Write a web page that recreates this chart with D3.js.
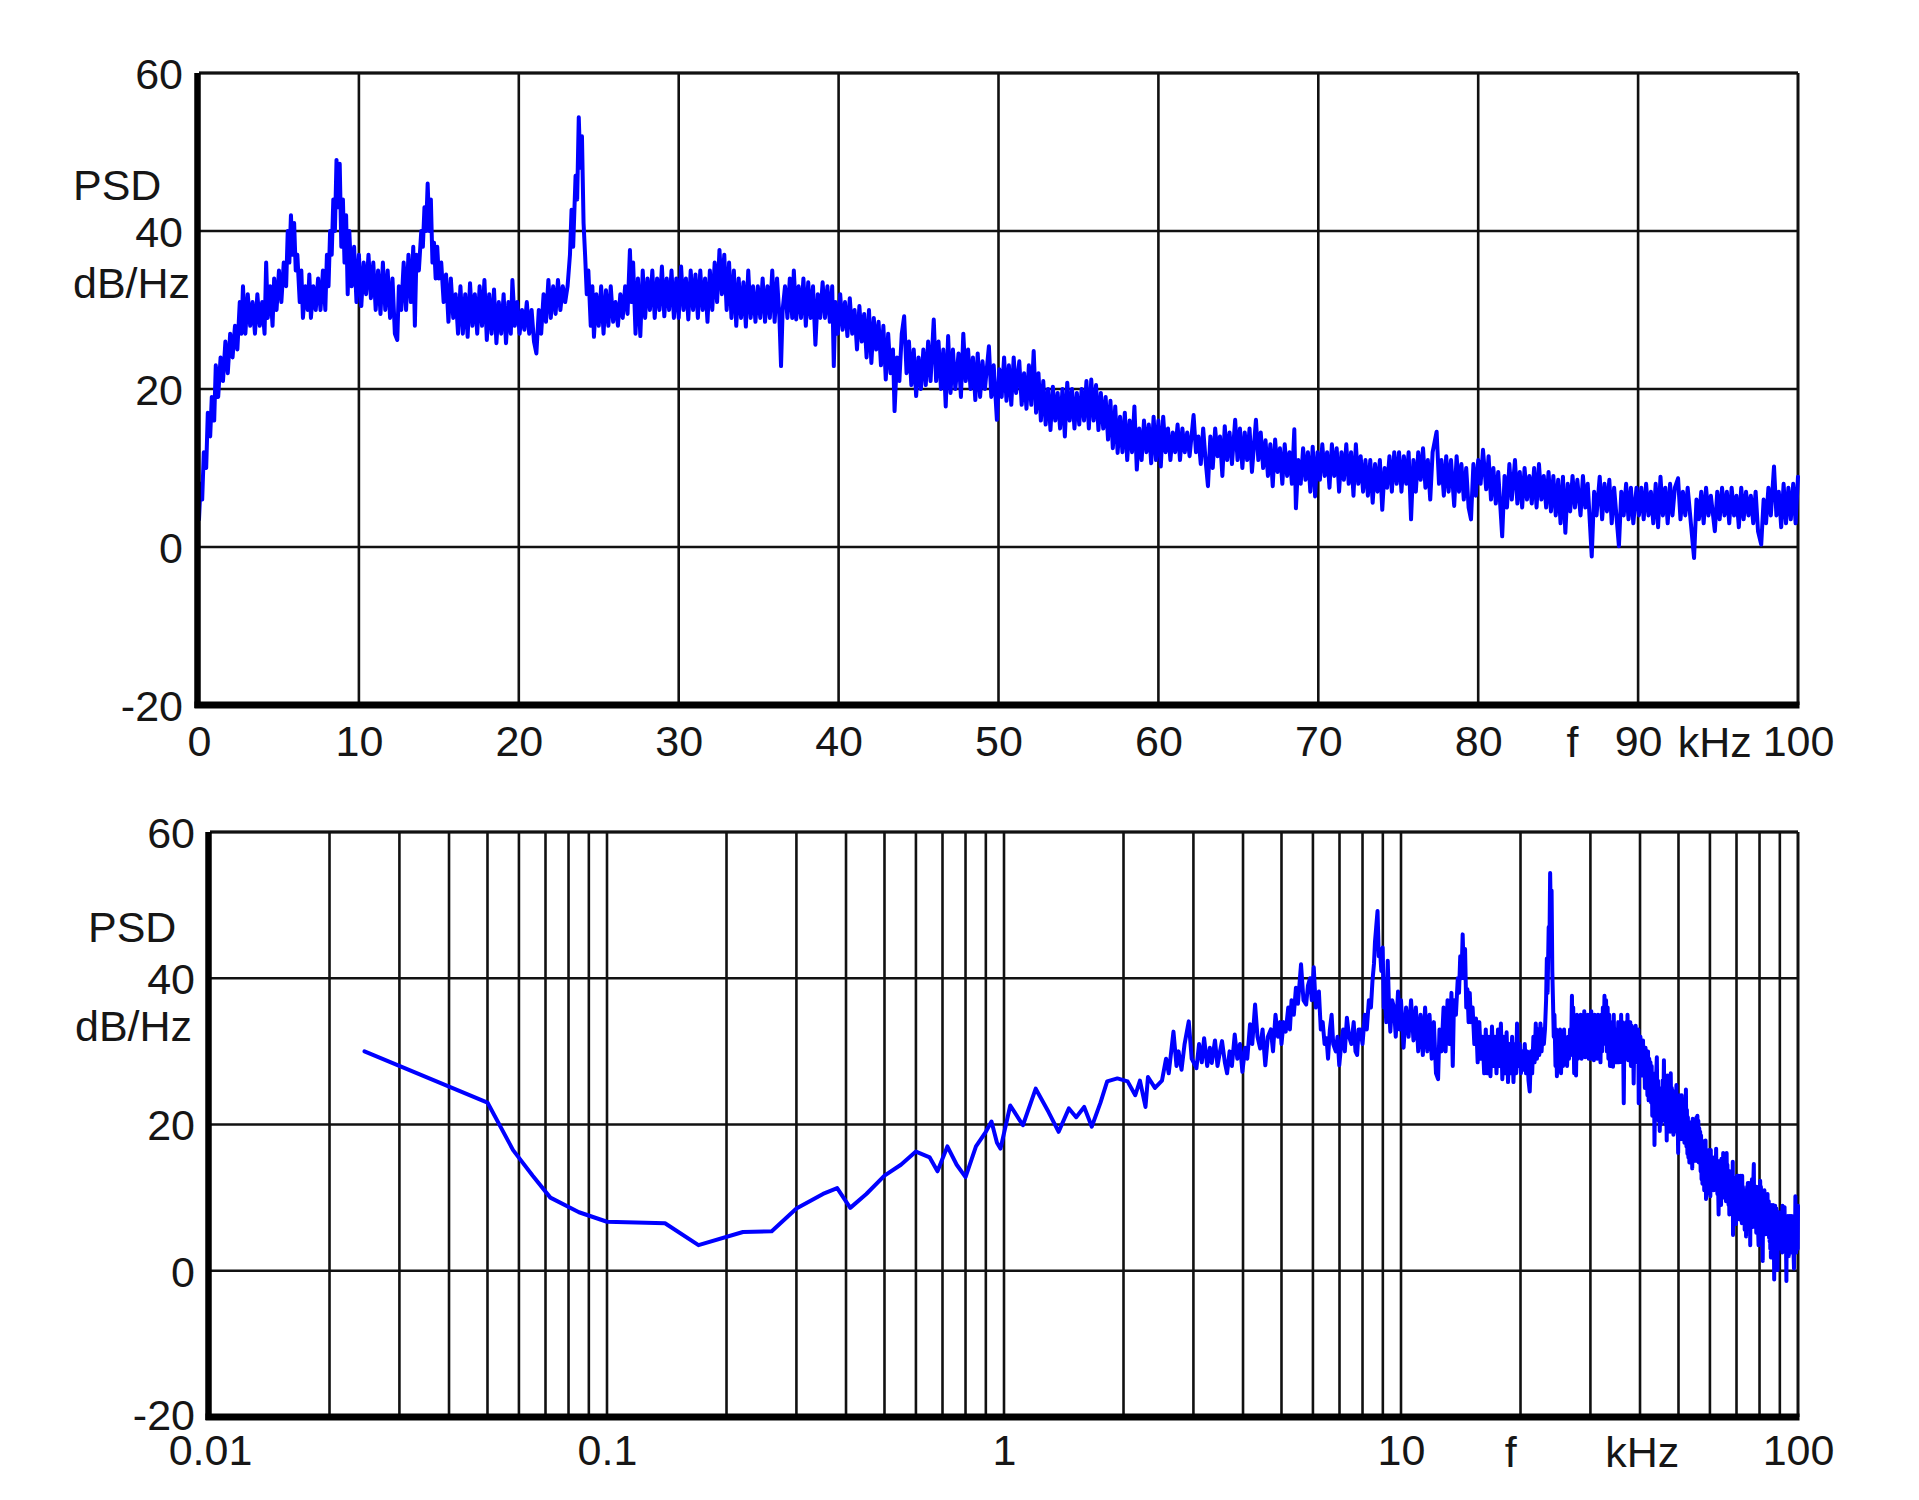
<!DOCTYPE html>
<html>
<head>
<meta charset="utf-8">
<script src="https://cdn.jsdelivr.net/npm/d3@7"></script>
<style>
  html, body { margin: 0; padding: 0; background: #fff; }
  svg { display: block; }
  text { font-family: "Liberation Sans", Arial, sans-serif; fill: #161616; }
</style>
</head>
<body>
<svg id="chart" width="1919" height="1500"></svg>
<script>
// ---------------- DATA ----------------
// Top chart: linear frequency axis (kHz), PSD in dB/Hz
const linSpectrum = [
[0,3.5],[0.1,8],[0.2,6],[0.3,12],[0.45,10],[0.55,17],[0.7,14],[0.8,19],[0.95,16],[1.05,23],[1.2,19],[1.35,24],[1.5,21],[1.65,26],[1.8,22],[1.95,27],[2.1,24],[2.25,28],[2.4,25],[2.55,31],[2.65,27],[2.75,33],[2.9,27],[3.05,32],[3.2,28],
[3.35,31],[3.5,27],[3.65,32],[3.8,28],[3.95,31],[4.1,27],[4.2,36],[4.3,29],[4.45,33],[4.6,28],[4.7,34],[4.85,30],[5.0,35],[5.15,31],[5.3,36],
[5.45,33],[5.55,40],[5.65,36],[5.75,42],[5.85,37],[5.95,41],[6.05,35],[6.15,37],[6.3,31],[6.4,35],[6.5,29],[6.65,33],[6.8,30],[6.9,34.5],[7.0,29],[7.15,33],[7.3,30],[7.45,34],[7.6,30],[7.75,35],[7.9,30],[8.0,37],[8.1,33],[8.2,40],
[8.3,37],[8.4,44],[8.5,40],[8.6,49],[8.7,43],[8.8,48.5],[8.9,38],[9.0,44],[9.1,36],[9.2,42],[9.3,32],[9.4,40],[9.55,33],[9.7,38],[9.85,31],[10.0,37],[10.15,30.5],
[10.3,36],[10.45,32],[10.6,37],[10.75,31.5],[10.9,36],[11.05,30],[11.2,35],[11.35,29.5],[11.5,36],[11.65,30],[11.8,35],[11.95,29],[12.1,34],[12.25,27],[12.4,26.2],[12.5,33],[12.65,30],[12.8,36],[12.95,30],[13.1,37],[13.25,31],[13.4,38],[13.5,28],[13.6,37],[13.75,35],[13.9,40],
[14.0,38],[14.1,43],[14.2,40],[14.3,46],[14.4,40],[14.5,44],[14.6,36],[14.7,38.5],[14.8,34],[14.9,38],[15.0,34],[15.15,36],[15.3,31],[15.45,34.5],[15.6,28.5],[15.75,34],[15.9,29],
[16.05,32],[16.2,27],[16.35,33],[16.5,27],[16.65,32],[16.8,26.6],[16.95,33.4],[17.1,28],[17.25,32],[17.4,27],[17.55,33],[17.7,28],[17.85,33.8],[18.0,26.2],[18.15,32],[18.3,27],[18.45,32.6],[18.6,25.8],[18.75,31],[18.9,27],[19.05,32],[19.2,25.8],[19.35,31],[19.5,27],[19.6,33.8],[19.75,28],[19.9,31],
[20.05,27],[20.2,30],[20.35,27.5],[20.5,31],[20.65,27],[20.8,30],[20.95,26],[21.1,24.5],[21.25,30],[21.4,27],[21.55,32],[21.7,28.5],[21.85,33.8],[22.0,29],[22.15,33],[22.3,29.5],[22.45,33.8],[22.6,30],[22.75,33],[22.9,31],
[23.05,33],[23.2,37],[23.3,42.7],[23.4,38],[23.55,47],[23.65,44],[23.75,54.4],[23.85,48],[23.95,52],[24.05,41],[24.15,36.8],[24.25,32],[24.35,35],[24.5,28],[24.6,33],[24.7,26.6],[24.85,32],[25.0,28],
[25.15,33],[25.3,27],[25.45,32.5],[25.6,28],[25.75,33],[25.9,28.5],[26.05,31],[26.2,28],[26.35,32],[26.5,29],[26.65,33],[26.8,29.5],[26.95,37.6],[27.05,31],[27.15,36],[27.3,27],[27.45,34],[27.6,26.7],[27.75,35],[27.9,29],[28.05,34],[28.2,30],[28.35,35],[28.5,29],[28.65,34],[28.8,30],[28.95,35.5],[29.1,29.2],[29.25,34],[29.4,30],[29.55,35],[29.7,29],[29.85,34],
[30.0,29],[30.15,35.5],[30.3,30],[30.45,34],[30.6,28.8],[30.75,35],[30.9,30],[31.05,34.5],[31.2,29],[31.35,35],[31.5,30],[31.65,34],[31.8,28.5],[31.95,35],[32.1,30],[32.25,36],[32.4,31],[32.55,37.6],[32.7,32],[32.85,37],[33.0,30],[33.15,36],[33.3,29],[33.45,35],[33.6,28],[33.75,34],[33.9,29],[34.05,33.5],[34.2,27.9],[34.35,35],[34.5,29],[34.65,33],[34.8,28.5],
[34.95,33],[35.1,29],[35.25,34],[35.4,28.5],[35.55,33],[35.7,29],[35.85,35],[36.0,28.5],[36.15,34],[36.3,29],[36.4,22.9],[36.5,30],[36.65,33],[36.8,29],[36.95,34],[37.1,29],[37.2,35],[37.35,28.8],[37.5,33],[37.65,29],[37.8,34],[37.95,28],[38.1,33.5],[38.25,29],[38.4,33],[38.55,25.6],[38.7,32],[38.85,29],[39.0,33.5],[39.15,29],[39.3,33],[39.45,28.5],[39.6,33],[39.7,22.9],[39.8,31],
[39.95,27],[40.1,32],[40.25,27.5],[40.4,31],[40.55,26.7],[40.7,31.5],[40.85,27],[41.0,30],[41.15,25],[41.3,30.5],[41.45,26],[41.6,29.5],[41.75,24],[41.9,30],[42.05,23.3],[42.2,29],[42.35,25],[42.5,28.5],[42.65,23],[42.8,28],[42.95,21.2],[43.1,27],[43.25,22],[43.4,25],[43.5,17.2],[43.65,24],[43.8,21],[43.95,27],[44.1,29.2],[44.25,22],[44.4,26],[44.55,20.5],[44.7,25],[44.85,19.1],[45.0,24],
[45.15,20],[45.3,25],[45.45,20.5],[45.6,26],[45.75,21],[45.95,28.8],[46.1,21],[46.25,26],[46.4,20],[46.55,25],[46.7,17.8],[46.85,26.7],[47.0,19.5],[47.15,25],[47.3,20],[47.5,24.5],[47.65,19],[47.8,27],[47.95,21],[48.1,25],[48.25,20],[48.4,24],[48.55,18.6],[48.7,24.5],[48.85,19],[49.0,23.5],[49.15,20],[49.4,25.4],[49.55,19],[49.7,23],[49.9,16.1],[50.05,22.5],
[50.2,19],[50.35,24],[50.5,18.5],[50.65,23],[50.8,18],[50.95,24],[51.1,19.5],[51.3,23.5],[51.45,18],[51.6,22],[51.75,17.5],[51.9,23],[52.05,18],[52.2,24.8],[52.35,17],[52.5,22],[52.65,16],[52.8,21],[52.95,15.5],[53.1,20],[53.25,14.8],[53.4,20.3],[53.55,16],[53.7,19.5],[53.85,15],[54.0,20],[54.15,14],[54.3,20.8],[54.45,16],[54.6,20],[54.75,15],[54.9,19.5],
[55.05,15.5],[55.2,20],[55.35,16],[55.5,21],[55.65,15],[55.8,21.2],[55.95,16],[56.1,20.5],[56.25,14.8],[56.4,19.5],[56.55,15],[56.7,19],[56.85,13.6],[57.0,18.5],[57.15,12.5],[57.3,17.8],[57.45,11.9],[57.6,16.5],[57.75,12],[57.9,17],[58.05,11],[58.2,16],[58.35,12],[58.5,17.8],[58.65,9.8],[58.8,15],[58.95,11],[59.1,16],[59.25,12],[59.4,15.5],[59.55,10.6],[59.7,16.5],[59.85,11],
[60.0,16],[60.15,10.2],[60.3,16.5],[60.45,12],[60.6,15],[60.75,11],[60.9,14.5],[61.05,12],[61.2,15.5],[61.35,11],[61.5,15],[61.65,12],[61.8,14.5],[61.95,11.5],[62.2,16.7],[62.35,12],[62.5,14],[62.65,10.5],[62.8,15],[62.95,11],[63.1,7.7],[63.25,14],[63.4,10],[63.55,15],[63.7,11.5],[63.85,14],[64.0,9],[64.15,15.3],[64.3,11],[64.45,14.5],[64.6,10.5],[64.8,16.1],[64.95,11],
[65.1,15],[65.25,10],[65.4,14.5],[65.55,11],[65.7,15],[65.85,9.5],[66.1,16.1],[66.25,11],[66.4,14.5],[66.55,10],[66.7,13.5],[66.85,9],[67.0,13],[67.15,7.7],[67.3,13.6],[67.45,9.5],[67.6,12.5],[67.75,8],[67.9,13],[68.05,9],[68.2,12],[68.35,8],[68.5,14.9],[68.6,4.9],[68.75,11],[68.9,8],[69.05,12.5],[69.2,8.5],[69.35,12],[69.5,7],[69.65,12.7],[69.8,6.4],[69.95,12],
[70.1,8.5],[70.25,13],[70.4,9],[70.55,12],[70.7,7.5],[70.85,13],[71.0,9],[71.15,12.5],[71.3,7],[71.45,12],[71.6,8.5],[71.75,13],[71.9,8],[72.05,12],[72.2,6.5],[72.35,13],[72.5,8],[72.65,11.5],[72.8,7],[72.95,11],[73.1,6.5],[73.25,11],[73.4,5.6],[73.55,10.5],[73.7,7],[73.85,11],[74.0,4.7],[74.15,10],[74.3,7.5],[74.45,11.5],[74.6,7],[74.75,12],[74.9,8],
[75.05,12],[75.2,7],[75.35,11.5],[75.5,8],[75.65,12],[75.8,3.5],[75.95,11],[76.1,7],[76.25,12],[76.4,8.5],[76.55,12.5],[76.7,7.5],[76.85,11],[77.0,6],[77.15,12],[77.4,14.6],[77.55,8],[77.7,11],[77.85,6.5],[78.0,11.5],[78.15,7],[78.3,11],[78.5,5.2],[78.65,11.5],[78.8,7],[78.95,10.5],[79.1,6],[79.25,10],[79.4,5],[79.55,3.5],[79.7,10.5],[79.85,6.5],
[80.0,11],[80.15,8],[80.3,12.3],[80.5,7.3],[80.65,11.5],[80.8,6],[80.95,10],[81.1,5.5],[81.25,9.5],[81.5,1.35],[81.65,9],[81.8,5],[81.95,10.5],[82.1,6],[82.3,11],[82.45,5.5],[82.6,9.5],[82.75,5],[82.9,10],[83.05,6],[83.2,9],[83.35,5.5],[83.5,10],[83.65,5],[83.8,10.5],[83.95,6],[84.1,9],[84.25,5],[84.4,9.5],[84.55,4.5],[84.7,9],[84.85,4],
[85.0,8.5],[85.15,3],[85.3,8.9],[85.45,1.8],[85.6,8],[85.75,4.5],[85.9,9],[86.05,5],[86.2,8.5],[86.4,4],[86.55,9],[86.7,5],[86.85,8],[87.1,-1.2],[87.25,7],[87.4,4],[87.6,8.9],[87.75,3.5],[87.9,8],[88.05,4.5],[88.2,8.5],[88.35,3],[88.5,7.5],[88.8,0.1],[88.95,7],[89.1,4],[89.25,8],[89.4,3.5],[89.55,7.5],[89.7,3],[89.9,7.5],
[90.05,4],[90.2,7.5],[90.35,3.5],[90.5,8],[90.65,4],[90.8,7],[90.95,3],[91.1,8],[91.25,2.5],[91.4,8.9],[91.55,4],[91.7,7.5],[91.85,3],[92.0,8],[92.15,4],[92.3,7.5],[92.5,8.7],[92.65,3.5],[92.8,7],[92.95,4],[93.1,7.5],[93.3,3],[93.5,-1.4],[93.65,6],[93.8,3.5],[93.95,7],[94.1,3],[94.25,7.5],[94.4,4],[94.55,6.5],[94.8,2],[94.95,7],
[95.1,3.5],[95.25,7.5],[95.4,4],[95.55,7],[95.7,3],[95.85,7.5],[96.0,4],[96.15,6.5],[96.3,2.5],[96.45,7.5],[96.6,3.5],[96.75,7],[96.9,4],[97.05,6.5],[97.2,3],[97.35,7],[97.5,2],[97.7,0.3],[97.85,6],[98.0,3],[98.15,7.5],[98.3,4],[98.5,10.2],[98.65,4],[98.8,7],[98.95,2.5],[99.1,8],[99.25,3],[99.4,7.5],[99.55,3.5],[99.7,8],[99.85,3],[100,8.9]
];

// Bottom chart (log axis): low-frequency part
const logLowSpectrum = [
[0.0245,30],[0.05,23],[0.058,16.5],[0.065,13],[0.072,10],[0.085,8],[0.1,6.7],[0.14,6.5],[0.17,3.5],[0.22,5.3],[0.26,5.4],[0.3,8.5],[0.35,10.5],[0.38,11.3],[0.41,8.6],[0.45,10.5],[0.5,13],[0.55,14.5],[0.6,16.3],[0.65,15.5],[0.68,13.6],[0.72,17],[0.76,14.5],[0.8,12.8],[0.85,17],[0.9,19],[0.93,20.4],[0.96,17.5]
];
// Bottom chart: 1–10 kHz part
const logMidSpectrum = [
[0.98,16.7],[1.037,22.6],[1.116,19.9],[1.202,24.9],[1.295,21.7],[1.373,19],[1.457,22.2],[1.52,21],[1.592,22.4],[1.664,19.7],[1.75,23],[1.819,25.9],[1.93,26.3],[2.048,25.9],[2.141,24],[2.2,26],[2.272,22.4],[2.305,26.5],[2.4,25],[2.5,26],
[2.56,29],[2.6,27],[2.672,32.7],[2.72,28],[2.752,30],[2.8,27.5],[2.85,31],[2.92,34.1],[2.97,29],[3.053,27.7],[3.1,31],[3.15,28.5],[3.192,31.8],[3.25,28],[3.3,30.5],[3.337,28.4],[3.4,31.5],[3.45,28],[3.5,30],[3.541,31.4],[3.6,28.5],[3.647,27],[3.7,30],[3.75,28],[3.812,32.3],[3.87,29],[3.93,31],[3.985,27.2],
[4.05,30.5],[4.1,29],[4.166,33.7],[4.22,31],[4.29,36.4],[4.35,32],[4.419,30.4],[4.48,33],[4.552,28.1],[4.62,32],[4.7,33],[4.76,30],[4.829,35],[4.9,32],[4.96,34],[5.0,31],[5.06,34],[5.124,32.7],[5.2,36],[5.25,33],[5.3,37],[5.37,35],[5.437,38.7],[5.5,36.5],[5.6,41.9],[5.68,37],[5.768,36.4],[5.83,39],[5.9,40],[5.96,37],
[6.029,41.5],[6.1,36],[6.211,38.2],[6.28,33],[6.35,34],[6.42,31],[6.492,31.8],[6.55,29],[6.62,33],[6.687,35],[6.75,31],[6.85,30],[6.92,32],[6.99,28.1],[7.07,31],[7.15,33],[7.22,30],[7.307,34.6],[7.4,32],[7.5,31],[7.6,34],[7.68,30],[7.753,29.5],[7.82,33],[7.9,33],[8.0,31],
[8.105,35],[8.2,33],[8.3,37],[8.4,36],[8.474,39.6],[8.55,42],[8.6,45],[8.66,47],[8.728,49.2],[8.79,43],[8.85,44],[8.92,41],[8.991,44.2],[9.05,36],[9.1,38],[9.18,34],[9.26,42.4],[9.33,36],[9.4,32.7],[9.5,37],[9.6,36],[9.7,32],[9.83,38.2],[9.92,33]
];

const yTicks = [-20, 0, 20, 40, 60];
const topXTicks = [0, 10, 20, 30, 40, 50, 60, 70, 80, 90, 100];
const topXLabels = ["0","10","20","30","40","50","60","70","80","90","100"];
const logDecades = [0.01, 0.1, 1, 10, 100];
const logXLabels = ["0.01","0.1","1","10","100"];
const logMultipliers = [2, 3, 4, 5, 6, 7, 8, 9];
const yUnitLines = ["PSD", "dB/Hz"];
const xUnitLetters = { f: "f", unit: "kHz" };
const topUnitPos = { f: 85.9, unit: 94.8 };      // in kHz on the top axis
const logUnitPos = { f: 18.9, unit: 40.5 };      // in kHz on the log axis

// ---------------- DRAWING ----------------
const svg = d3.select("#chart");
svg.append("rect").attr("width", 1919).attr("height", 1500).attr("fill", "#fff");

const FONT = 43;
const GRID = "#111";
const BLUE = "#0000ff";
const LINE_W = 4;

function frame(g, x, y, xGridVals) {
  const [x0, x1] = x.range();
  const [y0, y1] = y.range(); // y0 bottom, y1 top
  g.append("g").selectAll("line").data(xGridVals).join("line")
    .attr("x1", d => x(d)).attr("x2", d => x(d))
    .attr("y1", y1).attr("y2", y0)
    .attr("stroke", GRID).attr("stroke-width", 2.6);
  g.append("g").selectAll("line").data(yTicks).join("line")
    .attr("x1", x0).attr("x2", x1)
    .attr("y1", d => y(d)).attr("y2", d => y(d))
    .attr("stroke", GRID).attr("stroke-width", 2.6);
  g.append("line").attr("x1", x0).attr("x2", x1).attr("y1", y1).attr("y2", y1)
    .attr("stroke", GRID).attr("stroke-width", 3);
  g.append("line").attr("x1", x1).attr("x2", x1).attr("y1", y1).attr("y2", y0)
    .attr("stroke", GRID).attr("stroke-width", 3);
}

function axesThick(g, x, y) {
  const [x0, x1] = x.range();
  const [y0, y1] = y.range();
  g.append("line").attr("x1", x0 - 1.5).attr("x2", x0 - 1.5).attr("y1", y1).attr("y2", y0 + 3)
    .attr("stroke", "#000").attr("stroke-width", 6.5);
  g.append("line").attr("x1", x0 - 4.5).attr("x2", x1 + 1.5).attr("y1", y0).attr("y2", y0)
    .attr("stroke", "#000").attr("stroke-width", 7);
}

function yAxisLabels(g, y, xPos, padding, shiftBottom) {
  const ax = d3.axisLeft(y).tickValues(yTicks).tickSize(0).tickPadding(padding)
    .tickFormat(d => String(d));
  const a = g.append("g").attr("transform", `translate(${xPos},0)`).call(ax);
  a.select(".domain").remove();
  a.selectAll("text").attr("font-size", FONT).attr("fill", "#161616")
    .attr("font-family", "Liberation Sans, Arial, sans-serif").attr("dy", "0.36em");
  if (shiftBottom) {
    a.selectAll(".tick").filter(d => d === yTicks[0]).select("text")
      .attr("y", -shiftBottom);
  }
}

// ---------- TOP CHART ----------
const xTop = d3.scaleLinear().domain([0, 100]).range([199, 1798]);
const yTop = d3.scaleLinear().domain([-20, 60]).range([705, 73]);
const gTop = svg.append("g");
frame(gTop, xTop, yTop, topXTicks.slice(1, -1));

const lineTop = d3.line().x(d => xTop(d[0])).y(d => yTop(d[1]));
gTop.append("path").datum(linSpectrum)
  .attr("d", lineTop).attr("fill", "none").attr("stroke", BLUE)
  .attr("stroke-width", LINE_W).attr("stroke-linejoin", "round").attr("stroke-linecap", "round");

axesThick(gTop, xTop, yTop);

const axTop = d3.axisBottom(xTop).tickValues(topXTicks).tickSize(0).tickPadding(20)
  .tickFormat((d, i) => topXLabels[i]);
const aTop = gTop.append("g").attr("transform", `translate(0,${yTop(-20)})`).call(axTop);
aTop.select(".domain").remove();
aTop.selectAll("text").attr("font-size", FONT).attr("fill", "#161616")
  .attr("font-family", "Liberation Sans, Arial, sans-serif");
gTop.append("text").attr("x", xTop(topUnitPos.f)).attr("y", 757).attr("text-anchor", "middle")
  .attr("font-size", FONT).text(xUnitLetters.f);
gTop.append("text").attr("x", xTop(topUnitPos.unit)).attr("y", 757).attr("text-anchor", "middle")
  .attr("font-size", FONT).text(xUnitLetters.unit);

yAxisLabels(gTop, yTop, 199, 16, 0);
gTop.append("text").attr("x", 73).attr("y", 200).attr("font-size", FONT).text(yUnitLines[0]);
gTop.append("text").attr("x", 73).attr("y", 298).attr("font-size", FONT).text(yUnitLines[1]);

// ---------- BOTTOM CHART ----------
const xBot = d3.scaleLog().domain([0.01, 100]).range([210, 1798]);
const yBot = d3.scaleLinear().domain([-20, 60]).range([1417, 832]);
const gBot = svg.append("g");

const logGrid = [];
logDecades.slice(0, -1).forEach(dec => {
  logMultipliers.forEach(m => logGrid.push(+(dec * m).toPrecision(3)));
  logGrid.push(dec * 10);
});
frame(gBot, xBot, yBot, logGrid.filter(v => v < 100));

const logSpectrum = logLowSpectrum.concat(logMidSpectrum, linSpectrum.filter(d => d[0] >= 10));
const lineBot = d3.line().x(d => xBot(d[0])).y(d => yBot(d[1]));
gBot.append("path").datum(logSpectrum)
  .attr("d", lineBot).attr("fill", "none").attr("stroke", BLUE)
  .attr("stroke-width", LINE_W).attr("stroke-linejoin", "round").attr("stroke-linecap", "round");

axesThick(gBot, xBot, yBot);

const axBot = d3.axisBottom(xBot).tickValues(logDecades).tickSize(0).tickPadding(17)
  .tickFormat((d, i) => logXLabels[i]);
const aBot = gBot.append("g").attr("transform", `translate(0,${yBot(-20)})`).call(axBot);
aBot.select(".domain").remove();
aBot.selectAll("text").attr("font-size", FONT).attr("fill", "#161616")
  .attr("font-family", "Liberation Sans, Arial, sans-serif");
gBot.append("text").attr("x", xBot(logUnitPos.f)).attr("y", 1467).attr("text-anchor", "middle")
  .attr("font-size", FONT).text(xUnitLetters.f);
gBot.append("text").attr("x", xBot(logUnitPos.unit)).attr("y", 1467).attr("text-anchor", "middle")
  .attr("font-size", FONT).text(xUnitLetters.unit);

yAxisLabels(gBot, yBot, 210, 15, 3);
gBot.append("text").attr("x", 88).attr("y", 942).attr("font-size", FONT).text(yUnitLines[0]);
gBot.append("text").attr("x", 75).attr("y", 1041).attr("font-size", FONT).text(yUnitLines[1]);
</script>
</body>
</html>
